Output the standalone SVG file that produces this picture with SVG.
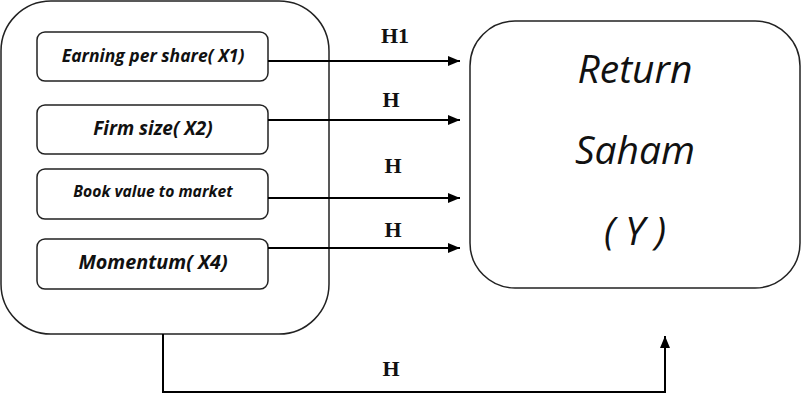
<svg xmlns="http://www.w3.org/2000/svg" width="801" height="404" viewBox="0 0 801 404">
<style>
.box{fill:#fff;stroke:#222;stroke-width:1.5}
.var{font-family:"Open Sans","Liberation Sans",sans-serif;font-style:italic;font-weight:bold;fill:#111;text-anchor:middle}
.big{font-family:"Open Sans","Liberation Sans",sans-serif;font-style:italic;font-size:39px;fill:#111;text-anchor:middle}
.lbl{font-family:"Liberation Serif",serif;font-weight:bold;font-size:22px;fill:#111;text-anchor:middle}
.con{fill:none;stroke:#000;stroke-width:2}
</style>
<defs>
<marker id="ah" markerWidth="12" markerHeight="10" refX="12" refY="5" orient="auto" markerUnits="userSpaceOnUse">
<path d="M0,0 L12,5 L0,10 Z" fill="#000"/>
</marker>
</defs>
<g id="group-x">
<rect class="box" x="1" y="1" width="328" height="333" rx="50" ry="50"/>
</g>
<g id="x1">
<rect class="box" x="37" y="32" width="231" height="49" rx="8" ry="8"/>
<text class="var" x="153" y="62" font-size="17.5">Earning per share( X1)</text>
</g>
<g id="x2">
<rect class="box" x="37" y="105" width="231" height="49" rx="8" ry="8"/>
<text class="var" x="153" y="135" font-size="19">Firm size( X2)</text>
</g>
<g id="x3">
<rect class="box" x="37" y="169" width="231" height="50" rx="8" ry="8"/>
<text class="var" x="153" y="197" font-size="15.7">Book value to market</text>
</g>
<g id="x4">
<rect class="box" x="37" y="239" width="231" height="50" rx="8" ry="8"/>
<text class="var" x="153" y="269" font-size="19.8">Momentum( X4)</text>
</g>
<g id="y">
<rect class="box" x="470" y="21" width="330" height="267" rx="45" ry="45"/>
<text class="big" x="635" y="83">Return</text>
<text class="big" x="635" y="164">Saham</text>
<text class="big" x="635" y="245">( Y )</text>
</g>
<g id="connectors">
<line class="con" x1="268" y1="61" x2="460" y2="61" marker-end="url(#ah)"/>
<line class="con" x1="268" y1="120" x2="460" y2="120" marker-end="url(#ah)"/>
<line class="con" x1="268" y1="198" x2="460" y2="198" marker-end="url(#ah)"/>
<line class="con" x1="268" y1="248" x2="460" y2="248" marker-end="url(#ah)"/>
<path class="con" d="M163,334 V392 H665 V336" marker-end="url(#ah)"/>
<text class="lbl" x="395" y="43">H1</text>
<text class="lbl" x="391" y="107">H</text>
<text class="lbl" x="393" y="173">H</text>
<text class="lbl" x="393" y="237">H</text>
<text class="lbl" x="391" y="376">H</text>
</g>
</svg>
